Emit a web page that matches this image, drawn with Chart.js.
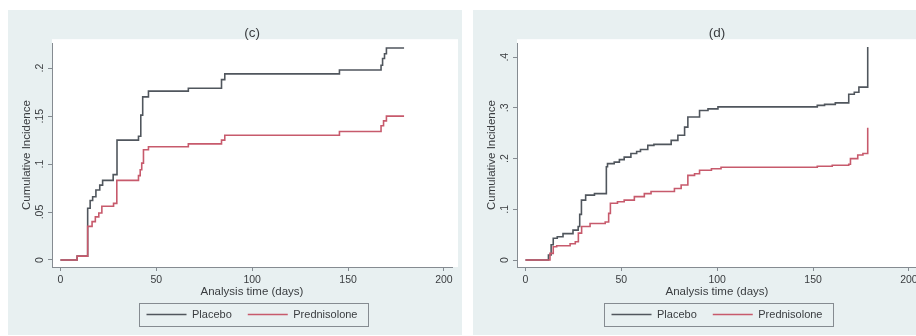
<!DOCTYPE html>
<html>
<head>
<meta charset="utf-8">
<script src="https://cdn.jsdelivr.net/npm/chart.js@4"></script>
<style>
  html, body { margin: 0; padding: 0; background: #fff; width: 916px; height: 336px; overflow: hidden; position: relative; }
  .panel { position: absolute; top: 10px; width: 454px; height: 325px; }
  #panelC { left: 8px; }
  #panelD { left: 473px; }
</style>
</head>
<body>
<div class="panel" id="panelC"><canvas id="chartC" width="454" height="325"></canvas></div>
<div class="panel" id="panelD"><canvas id="chartD" width="454" height="325"></canvas></div>
<script>
// ---- data: cumulative incidence step functions (time in days, incidence) ----
const seriesNames = ['Placebo', 'Prednisolone'];

// Panel (c)
const placeboC_t = [0, 8.7, 14.2, 15.5, 16.8, 18.5, 20.5, 22, 27.5, 29.5, 40.7, 41.9, 42.9, 45.9, 66.7, 84, 85.7, 145.5, 167.2, 168, 169, 170, 179.2];
const placeboC_v = [0, 0.004, 0.054, 0.062, 0.066, 0.073, 0.078, 0.083, 0.089, 0.125, 0.129, 0.151, 0.170, 0.176, 0.179, 0.188, 0.194, 0.198, 0.203, 0.210, 0.215, 0.221, 0.221];
const predC_t = [0, 8.7, 14.2, 16.5, 18.2, 20, 21.6, 27.7, 29.4, 40.7, 41.6, 42.4, 43.3, 45.9, 66.7, 84, 85.7, 145.5, 167.2, 168.5, 170, 179.2];
const predC_v = [0, 0.004, 0.035, 0.040, 0.045, 0.049, 0.056, 0.059, 0.083, 0.088, 0.094, 0.101, 0.115, 0.118, 0.121, 0.125, 0.130, 0.134, 0.140, 0.145, 0.150, 0.150];

// Panel (d)
const placeboD_t = [0, 12, 13.4, 14.5, 16.6, 19.6, 24.8, 27.5, 28.3, 29.2, 31.4, 36, 42.2, 42.8, 46.3, 49, 51.5, 55, 58, 60, 63.8, 67, 76, 79.5, 83, 84.7, 90.8, 95.2, 100.4, 152.2, 156, 161.6, 168.6, 171.5, 173.9, 178.5];
const placeboD_v = [0, 0.010, 0.030, 0.043, 0.046, 0.052, 0.059, 0.066, 0.090, 0.118, 0.128, 0.131, 0.184, 0.190, 0.193, 0.198, 0.203, 0.210, 0.214, 0.218, 0.226, 0.228, 0.236, 0.246, 0.262, 0.282, 0.295, 0.298, 0.302, 0.305, 0.307, 0.310, 0.327, 0.331, 0.341, 0.420];
const predD_t = [0, 12.8, 14.5, 16.3, 23.3, 26, 27.6, 29.3, 33.7, 41.6, 43.4, 44.3, 48, 51.5, 56.8, 62, 65.5, 77.7, 81.2, 84.7, 88.2, 90.8, 97, 102, 152.2, 160, 168.6, 169.5, 173.3, 176, 178.5];
const predD_v = [0, 0.013, 0.026, 0.028, 0.032, 0.036, 0.053, 0.066, 0.072, 0.075, 0.092, 0.112, 0.115, 0.118, 0.125, 0.131, 0.135, 0.141, 0.148, 0.167, 0.170, 0.177, 0.180, 0.183, 0.185, 0.187, 0.189, 0.200, 0.207, 0.210, 0.261];

// ---- axis ticks ----
const xTickValues = [0, 50, 100, 150, 200];
const yTickValuesC = [0, 0.05, 0.1, 0.15, 0.2];
const yTickLabelsC = ['0', '.05', '.1', '.15', '.2'];
const yTickValuesD = [0, 0.1, 0.2, 0.3, 0.4];
const yTickLabelsD = ['0', '.1', '.2', '.3', '.4'];

// ---- styling ----
const FONT = '"Liberation Sans", Arial, sans-serif';
const TEXT = '#3a3d40';
const AXIS = '#858b91';
const GRAPH_BG = '#e8f0f1';
const COLORS = ['#50565d', '#c75a6c'];

// light graph region with a white plot region
const backdrop = {
  id: 'backdrop',
  beforeDraw(chart) {
    const { ctx, chartArea: a } = chart;
    ctx.save();
    ctx.fillStyle = GRAPH_BG;
    ctx.fillRect(0, 0, chart.width, chart.height);
    ctx.fillStyle = '#ffffff';
    ctx.fillRect(a.left, a.top - 4, a.right - a.left + 6, a.bottom - a.top + 4);
    ctx.restore();
  }
};

// vertical y tick labels
const verticalYLabels = {
  id: 'verticalYLabels',
  afterDraw(chart, args, opts) {
    const s = chart.scales.y;
    const { ctx } = chart;
    ctx.save();
    ctx.font = '10.5px ' + FONT;
    ctx.fillStyle = TEXT;
    ctx.textAlign = 'center';
    ctx.textBaseline = 'middle';
    opts.values.forEach((v, i) => {
      const y = s.getPixelForValue(v);
      ctx.save();
      ctx.translate(s.right - 12, y);
      ctx.rotate(-Math.PI / 2);
      ctx.fillText(opts.labels[i], 0, 0);
      ctx.restore();
    });
    ctx.restore();
  }
};

// frame around the legend entries
const legendFrame = {
  id: 'legendFrame',
  afterDraw(chart) {
    const hb = chart.legend && chart.legend.legendHitBoxes;
    if (!hb || !hb.length) return;
    const l = Math.min(...hb.map(h => h.left));
    const r = Math.max(...hb.map(h => h.left + h.width));
    const t = Math.min(...hb.map(h => h.top));
    const b = Math.max(...hb.map(h => h.top + h.height));
    const { ctx } = chart;
    ctx.save();
    ctx.strokeStyle = AXIS;
    ctx.lineWidth = 1;
    ctx.strokeRect(Math.round(l - 8) + 0.5, Math.round(t - 6) + 0.5, Math.round(r - l + 18), Math.round(b - t + 12));
    ctx.restore();
  }
};

function stepSeries(label, t, v, color, order) {
  return {
    label,
    order,
    data: t.map((x, i) => ({ x, y: v[i] })),
    borderColor: color,
    backgroundColor: color,
    borderWidth: 1.6,
    stepped: true,
    pointRadius: 0,
    fill: false
  };
}

function drawPanel(canvasId, title, placebo, pred, yMin, yMax, yVals, yLabels) {
  const tickFont = { family: FONT, size: 10.5 };
  const titleFont = { family: FONT, size: 11.5 };
  new Chart(document.getElementById(canvasId), {
    type: 'line',
    data: {
      datasets: [
        stepSeries(seriesNames[0], placebo[0], placebo[1], COLORS[0], 1),
        stepSeries(seriesNames[1], pred[0], pred[1], COLORS[1], 0)
      ]
    },
    options: {
      responsive: false,
      animation: false,
      devicePixelRatio: 1,
      layout: { padding: { left: 8, right: 10, top: 0, bottom: 5 } },
      plugins: {
        title: {
          display: true, text: title, fullSize: false,
          font: { family: FONT, size: 13.5, weight: 'normal' }, color: TEXT,
          padding: { top: 15, bottom: 2 }
        },
        legend: {
          display: true, position: 'bottom', fullSize: false,
          labels: {
            usePointStyle: true, pointStyle: 'line', pointStyleWidth: 40, boxHeight: 10,
            font: { family: FONT, size: 11 }, color: TEXT, padding: 16,
            sort: (a, b) => a.datasetIndex - b.datasetIndex
          }
        },
        tooltip: { enabled: false },
        verticalYLabels: { values: yVals, labels: yLabels }
      },
      scales: {
        x: {
          type: 'linear', min: -4.4, max: 204.2,
          afterBuildTicks: s => { s.ticks = xTickValues.map(v => ({ value: v })); },
          afterFit: s => { s.height = 26; },
          ticks: { font: tickFont, color: TEXT, padding: 3, maxRotation: 0, autoSkip: false },
          grid: { drawOnChartArea: false, drawTicks: true, tickLength: 4, color: AXIS },
          border: { display: true, color: AXIS, width: 1 },
          title: { display: true, text: 'Analysis time (days)', font: titleFont, color: TEXT, padding: { top: 0, bottom: -6 } }
        },
        y: {
          type: 'linear', min: yMin, max: yMax,
          afterBuildTicks: s => { s.ticks = yVals.map(v => ({ value: v })); },
          afterFit: s => { s.width = 36; },
          ticks: { display: false },
          grid: { drawOnChartArea: false, drawTicks: true, tickLength: 4, color: AXIS },
          border: { display: true, color: AXIS, width: 1 },
          title: { display: true, text: 'Cumulative Incidence', font: titleFont, color: TEXT, padding: { top: 4, bottom: 0 } }
        }
      }
    },
    plugins: [backdrop, verticalYLabels, legendFrame]
  });
}

drawPanel('chartC', '(c)', [placeboC_t, placeboC_v], [predC_t, predC_v], -0.0073, 0.226, yTickValuesC, yTickLabelsC);
drawPanel('chartD', '(d)', [placeboD_t, placeboD_v], [predD_t, predD_v], -0.0138, 0.4276, yTickValuesD, yTickLabelsD);
</script>
</body>
</html>
